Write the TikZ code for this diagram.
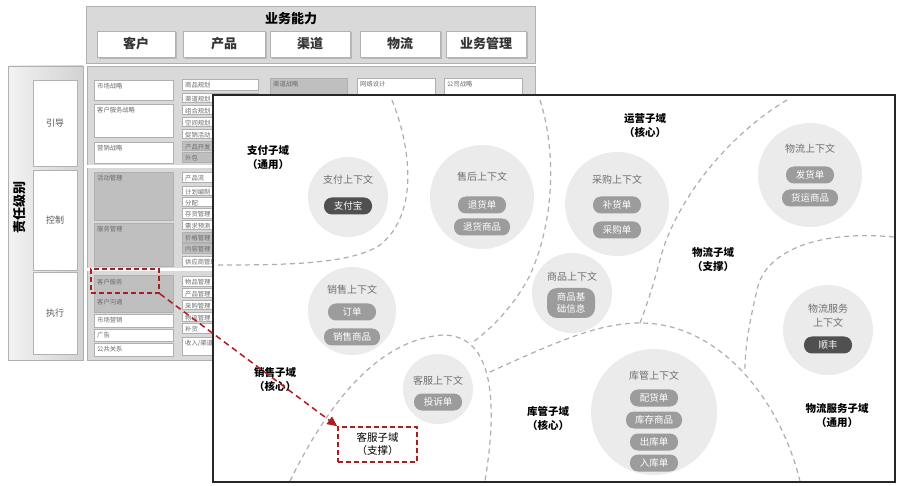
\documentclass[tikz,border=0pt]{standalone}
\usepackage{fontspec}
\setmainfont{Noto Sans CJK SC}
\usetikzlibrary{arrows.meta}
\definecolor{panelgray}{HTML}{D9D9D9}
\definecolor{edgegray}{HTML}{B0B0B0}
\definecolor{cellgray}{HTML}{BFBFBF}
\definecolor{celltext}{HTML}{6A6A6A}
\definecolor{ctxgray}{HTML}{EBEBEB}
\definecolor{titlegray}{HTML}{6E6E6E}
\definecolor{pillgray}{HTML}{9C9C9C}
\definecolor{pilldark}{HTML}{505050}
\definecolor{dashgray}{HTML}{AEAEAE}
\definecolor{darkred}{RGB}{168,30,36}
\newcommand\tb[7]{%
  \draw[#7] (#2,#3) rectangle (#4,#5);
  \node[tbtext, anchor=west] (#1) at (#2+3,#3+6.5) {#6};}
\begin{document}
\begin{tikzpicture}[x=1pt,y=-1pt,
  tbw/.style={fill=white, draw=edgegray, line width=0.5pt},
  tbg/.style={fill=cellgray, draw=edgegray, line width=0.5pt},
  tbtext/.style={text=celltext, font=\fontsize{6.3}{7}\selectfont, inner sep=0pt},
  hdr/.style={fill=white, draw=gray!60, line width=0.6pt, font=\fontsize{13}{15}\selectfont\bfseries, text=black!80, inner sep=0pt},
  lvl/.style={fill=white, draw=gray!60, line width=0.6pt, font=\fontsize{9}{11}\selectfont, text=black!65, inner sep=0pt, minimum width=44pt},
  ctx/.style={circle, fill=ctxgray, draw=none, inner sep=0pt},
  ctxtitle/.style={text=titlegray, font=\fontsize{10}{14}\selectfont, align=center, inner sep=0pt},
  pill/.style={rounded corners=8pt, fill=pillgray, text=white, font=\fontsize{9.5}{11}\selectfont, minimum height=17pt, minimum width=48pt, inner xsep=9pt, inner ysep=1pt},
  darkpill/.style={pill, fill=pilldark},
  dom/.style={font=\fontsize{10.5}{14}\selectfont\bfseries, align=center, inner sep=0pt},
  bound/.style={draw=dashgray, dash pattern=on 5pt off 4pt, line width=1.2pt},
  redbox/.style={draw=darkred, dash pattern=on 5pt off 3pt, line width=1.5pt},
  redarrow/.style={draw=darkred, dash pattern=on 6pt off 4pt, line width=1.5pt, -{Triangle[length=10pt,width=9pt]}}
]
\useasboundingbox (0,0) rectangle (900,486);
\fill[white] (0,0) rectangle (900,486);

% ---------- background: business capability table ----------
\draw[fill=panelgray, draw=edgegray] (86,6) rectangle (535,63);
\node[font=\fontsize{13}{15}\selectfont\bfseries] (cap) at (291,19) {业务能力};
\foreach \n/\a/\b/\t in {h1/97/175/客户, h2/183/265/产品/服务, h3/270/350/渠道, h4/360/440/物流, h5/446/526/业务管理}{
  \fill[gray!55] (\a+2,32) rectangle (\b+2,59);
  \node[hdr, minimum width=\b-\a, minimum height=26pt] (\n) at ({(\a+\b)/2},44) {\t};
}
\shade[left color=gray!10, right color=gray!35, draw=edgegray] (8,66) rectangle (83,360);
\node[rotate=90, font=\fontsize{13}{15}\selectfont\bfseries] (lvl0) at (20,208) {责任级别};
\node[lvl, minimum height=86pt] (l1) at (55,123) {引导};
\node[lvl, minimum height=100pt] (l2) at (55,220) {控制};
\node[lvl, minimum height=82pt] (l3) at (55,313) {执行};

\draw[fill=panelgray, draw=edgegray] (87,66) rectangle (535,360);
\draw[white, line width=3pt] (87,167) -- (535,167);
\draw[white, line width=3pt] (87,270) -- (535,270);

% column 1
\tb{a1}{94}{80}{173}{100}{市场战略}{tbw}
\tb{a2}{94}{104}{173}{137}{客户服务战略}{tbw}
\tb{a3}{94}{142}{173}{163}{营销战略}{tbw}
\tb{a4}{94}{172}{173}{220}{活动管理}{tbg}
\tb{a5}{94}{223}{173}{266}{服务管理}{tbg}
\draw[tbg] (94,275) rectangle (173,312);
\node[tbtext, anchor=west] (a6) at (97,282) {客户服务};
\node[tbtext, anchor=west] (a7) at (97,302) {客户沟通};
\tb{a8}{94}{314}{173}{327}{市场营销}{tbw}
\tb{a9}{94}{329}{173}{341}{广告}{tbw}
\tb{a10}{94}{343}{173}{356}{公共关系}{tbw}

% other columns, partly hidden by the overlay
\begin{scope}
\clip (0,0) rectangle (213,486) (213,0) rectangle (900,95);
\tb{b1}{182}{79}{258}{90}{商品规划}{tbw}
\tb{b2}{182}{93}{258}{102}{渠道规划}{tbw}
\tb{b3}{182}{105}{258}{114}{组合规划}{tbw}
\tb{b4}{182}{117}{258}{126}{空间规划}{tbw}
\tb{b5}{182}{129}{258}{138}{促销活动}{tbw}
\tb{b6}{182}{141}{258}{150}{产品开发}{tbg}
\tb{b7}{182}{152}{258}{162}{外包}{tbg}
\tb{b8}{182}{172}{258}{182}{产品流}{tbw}
\tb{b9}{182}{186}{258}{195}{计划编制}{tbw}
\tb{b10}{182}{197}{258}{206}{分配}{tbw}
\tb{b11}{182}{208}{258}{218}{存货管理}{tbw}
\tb{b12}{182}{220}{258}{229}{需求预测}{tbw}
\tb{b13}{182}{232}{258}{242}{价格管理}{tbg}
\tb{b14}{182}{243}{258}{253}{内容管理}{tbg}
\tb{b15}{182}{256}{258}{266}{供应商管理}{tbw}
\tb{b16}{182}{276}{258}{286}{物品管理}{tbw}
\tb{b17}{182}{288}{258}{297}{产品管理}{tbw}
\tb{b18}{182}{300}{258}{309}{采购管理}{tbw}
\tb{b19}{182}{312}{258}{321}{物流管理}{tbw}
\tb{b20}{182}{323}{258}{333}{补货}{tbw}
\tb{b21}{182}{337}{258}{355}{收入/渠道管理}{tbw}
\tb{d1}{270}{78}{347}{110}{渠道战略}{tbg}
\tb{d2}{357}{78}{435}{110}{网络设计}{tbw}
\tb{d3}{444}{78}{522}{110}{公司战略}{tbw}
\end{scope}

% ---------- overlay: bounded contexts ----------
\draw[fill=white, draw=black!85, line width=1.6pt] (213,95) rectangle (895,482);

% context circles
\node[ctx, minimum size=80pt]  (cpay) at (348,197) {};
\node[ctx, minimum size=104pt] (cafter) at (482,197) {};
\node[ctx, minimum size=104pt] (cbuy) at (617,204) {};
\node[ctx, minimum size=104pt] (clog) at (810,175) {};
\node[ctx, minimum size=80pt]  (cgoods) at (572,293) {};
\node[ctx, minimum size=88pt]  (csale) at (352,311) {};
\node[ctx, minimum size=70pt]  (csvc) at (438,389) {};
\node[ctx, minimum size=126pt] (cstore) at (654,412) {};
\node[ctx, minimum size=90pt]  (clogsvc) at (828,330) {};

% boundaries
\draw[bound] (392,100) .. controls (412,150) and (418,215) .. (380,245) .. controls (350,265) and (280,265) .. (214,265);
\draw[bound] (540,100) .. controls (556,150) and (555,220) .. (530,275) .. controls (515,305) and (490,330) .. (473,342);
\draw[bound] (787,100) .. controls (720,140) and (672,210) .. (660,260) .. controls (652,290) and (645,310) .. (640,323);
\draw[bound] (290,481) .. controls (320,420) and (370,340) .. (443,335) .. controls (500,335) and (495,420) .. (485,481);
\draw[bound] (490,372) .. controls (560,340) and (600,323) .. (640,323) .. controls (720,323) and (780,400) .. (800,481);
\draw[bound] (894,237) .. controls (820,230) and (765,250) .. (757,290) .. controls (750,320) and (745,345) .. (745,370);

% context contents
\node[ctxtitle] (tpay) at (348,180) {支付上下文};
\node[darkpill] (ppay) at (348,206) {支付宝};

\node[ctxtitle] (tafter) at (482,177) {售后上下文};
\node[pill] (pa1) at (482,205) {退货单};
\node[pill] (pa2) at (482,227) {退货商品};

\node[ctxtitle] (tbuy) at (617,180) {采购上下文};
\node[pill] (pb1) at (617,205) {补货单};
\node[pill] (pb2) at (617,230) {采购单};

\node[ctxtitle] (tlog) at (810,149) {物流上下文};
\node[pill] (pl1) at (810,175) {发货单};
\node[pill] (pl2) at (810,198) {货运商品};

\node[ctxtitle] (tgoods) at (572,277) {商品上下文};
\node[pill, align=center, font=\fontsize{9.5}{12}\selectfont, rounded corners=10pt, minimum width=48pt, minimum height=30pt, inner xsep=5pt] (pg1) at (571,303) {商品基\\础信息};

\node[ctxtitle] (tsale) at (352,290) {销售上下文};
\node[pill] (ps1) at (352,312) {订单};
\node[pill] (ps2) at (352,337) {销售商品};

\node[ctxtitle] (tsvc) at (438,381) {客服上下文};
\node[pill] (pv1) at (438,402) {投诉单};

\node[ctxtitle] (tstore) at (654,376) {库管上下文};
\node[pill] (pw1) at (654,398) {配货单};
\node[pill] (pw2) at (654,420) {库存商品};
\node[pill] (pw3) at (654,442) {出库单};
\node[pill] (pw4) at (654,463) {入库单};

\node[ctxtitle] (tlogsvc) at (828,316) {物流服务\\上下文};
\node[darkpill] (pls1) at (828,345) {顺丰};

% domain labels
\node[dom] (dpay) at (268,158) {支付子域\\（通用）};
\node[dom] (dops) at (645,126) {运营子域\\（核心）};
\node[dom] (dlog) at (713,260) {物流子域\\（支撑）};
\node[dom] (dsale) at (275,380) {销售子域\\（核心）};
\node[dom] (dstore) at (548,418) {库管子域\\（核心）};
\node[dom] (dlogsvc) at (837,416) {物流服务子域\\（通用）};

% highlight and arrow
\node[redbox, minimum width=68pt, minimum height=24pt, inner sep=0pt] (ks) at (125,281) {};
\node[redbox, dom, font=\fontsize{10.5}{13}\selectfont, minimum width=79pt, minimum height=35pt] (kf) at (377.5,444.5) {客服子域\\（支撑）};
\draw[redarrow] (ks.south east) -- (kf.north west);
\end{tikzpicture}
\end{document}
